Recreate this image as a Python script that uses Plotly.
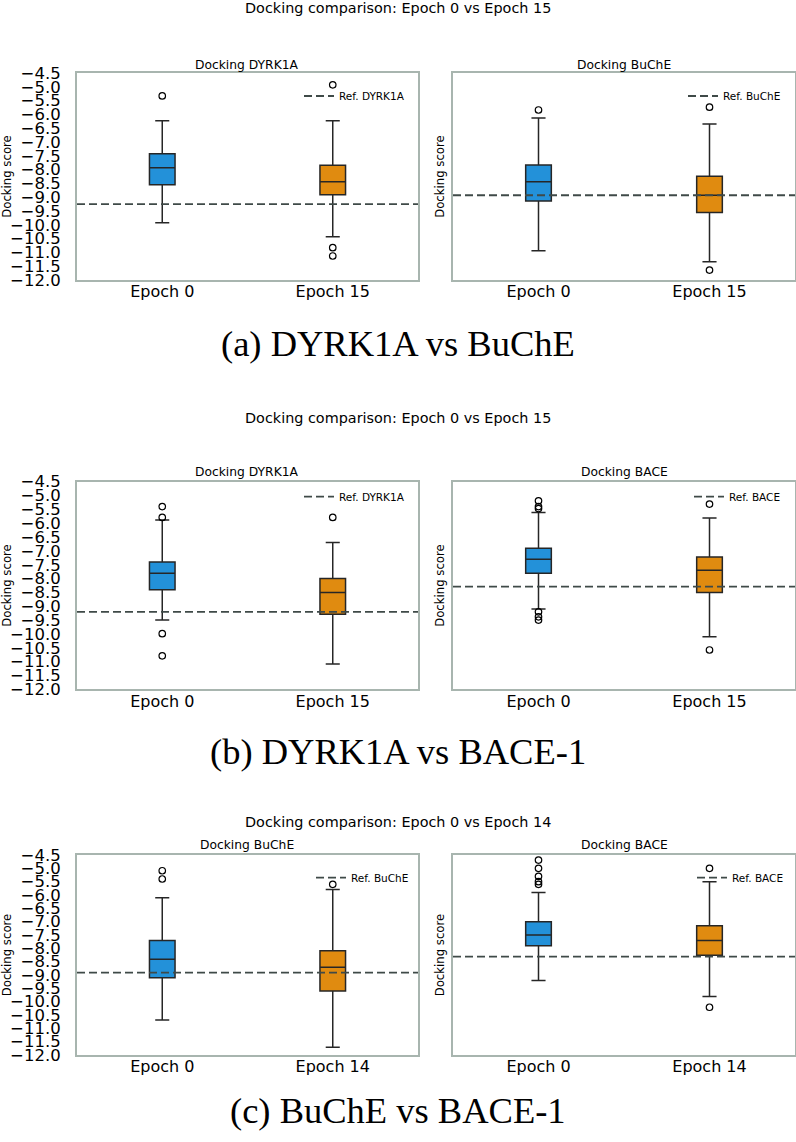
import plotly.graph_objects as go

W, H = 796, 1142

# ---------------- data ----------------
epochs_ab = ["Epoch 0", "Epoch 15"]
epochs_c = ["Epoch 0", "Epoch 14"]
y_ticks = [-4.5, -5.0, -5.5, -6.0, -6.5, -7.0, -7.5, -8.0, -8.5, -9.0,
           -9.5, -10.0, -10.5, -11.0, -11.5, -12.0]

# (a) DYRK1A vs BuChE
a_dyrk_q1 = [-8.55, -8.91]
a_dyrk_med = [-7.93, -8.44]
a_dyrk_q3 = [-7.43, -7.84]
a_dyrk_lo = [-9.93, -10.43]
a_dyrk_hi = [-6.23, -6.23]
a_dyrk_out = [[-5.33], [-4.93, -10.83, -11.13]]
a_dyrk_ref = -9.25

a_buche_q1 = [-9.14, -9.55]
a_buche_med = [-8.44, -8.93]
a_buche_q3 = [-7.83, -8.24]
a_buche_lo = [-10.94, -11.34]
a_buche_hi = [-6.13, -6.35]
a_buche_out = [[-5.84], [-5.74, -11.64]]
a_buche_ref = -8.93

# (b) DYRK1A vs BACE-1
b_dyrk_q1 = [-8.40, -9.29]
b_dyrk_med = [-7.81, -8.50]
b_dyrk_q3 = [-7.40, -8.00]
b_dyrk_lo = [-9.50, -11.09]
b_dyrk_hi = [-5.88, -6.70]
b_dyrk_out = [[-5.40, -5.79, -9.99, -10.79], [-5.79]]
b_dyrk_ref = -9.20

b_bace_q1 = [-7.81, -8.50]
b_bace_med = [-7.30, -7.70]
b_bace_q3 = [-6.90, -7.22]
b_bace_lo = [-9.10, -10.10]
b_bace_hi = [-5.61, -5.81]
b_bace_out = [[-5.19, -5.40, -5.47, -9.20, -9.38, -9.50], [-5.31, -10.58]]
b_bace_ref = -8.29

# (c) BuChE vs BACE-1
c_buche_q1 = [-9.10, -9.60]
c_buche_med = [-8.41, -8.71]
c_buche_q3 = [-7.71, -8.09]
c_buche_lo = [-10.69, -11.71]
c_buche_hi = [-6.10, -5.79]
c_buche_out = [[-5.09, -5.40], [-5.60]]
c_buche_ref = -8.91

c_bace_q1 = [-7.90, -8.26]
c_bace_med = [-7.50, -7.71]
c_bace_q3 = [-7.00, -7.15]
c_bace_lo = [-9.21, -9.81]
c_bace_hi = [-5.91, -5.50]
c_bace_out = [[-4.69, -5.00, -5.30, -5.50, -5.60], [-5.00, -10.21]]
c_bace_ref = -8.31

suptitles = ["Docking comparison: Epoch 0 vs Epoch 15",
             "Docking comparison: Epoch 0 vs Epoch 15",
             "Docking comparison: Epoch 0 vs Epoch 14"]
captions = ["(a) DYRK1A vs BuChE", "(b) DYRK1A vs BACE-1", "(c) BuChE vs BACE-1"]

subplots = [
    # (row, col, title, legend name, categories, q1, med, q3, lo, hi, outliers, ref)
    (0, 0, "Docking DYRK1A", "Ref. DYRK1A", epochs_ab, a_dyrk_q1, a_dyrk_med, a_dyrk_q3, a_dyrk_lo, a_dyrk_hi, a_dyrk_out, a_dyrk_ref),
    (0, 1, "Docking BuChE", "Ref. BuChE", epochs_ab, a_buche_q1, a_buche_med, a_buche_q3, a_buche_lo, a_buche_hi, a_buche_out, a_buche_ref),
    (1, 0, "Docking DYRK1A", "Ref. DYRK1A", epochs_ab, b_dyrk_q1, b_dyrk_med, b_dyrk_q3, b_dyrk_lo, b_dyrk_hi, b_dyrk_out, b_dyrk_ref),
    (1, 1, "Docking BACE", "Ref. BACE", epochs_ab, b_bace_q1, b_bace_med, b_bace_q3, b_bace_lo, b_bace_hi, b_bace_out, b_bace_ref),
    (2, 0, "Docking BuChE", "Ref. BuChE", epochs_c, c_buche_q1, c_buche_med, c_buche_q3, c_buche_lo, c_buche_hi, c_buche_out, c_buche_ref),
    (2, 1, "Docking BACE", "Ref. BACE", epochs_c, c_bace_q1, c_bace_med, c_bace_q3, c_bace_lo, c_bace_hi, c_bace_out, c_bace_ref),
]

# ---------------- styling / geometry (pixels) ----------------
FONT = "DejaVu Sans"
SERIF = "Liberation Serif"
box_colors = ["#2391d9", "#e08b10"]
spine = "#a8b5af"
ref_color = "#3f4a48"

rows_y = [(73, 280), (481.7, 689.3), (855, 1055)]
cols_x = [(77, 418), (453, 795)]
supt_y = [8, 418, 822]
subt_y = [64.5, 472, 845.5]
capt_y = [344, 752, 1110]
legend_y = [96, 496.7, 877.7]
legend_right = [[410, 786], [410, 786], [414, 789]]


def px_x(x):
    return x / W


def px_y(y):
    return 1 - y / H


fig = go.Figure()
layout = dict(
    width=W, height=H, margin=dict(l=0, r=0, t=0, b=0),
    paper_bgcolor="white", plot_bgcolor="white",
    font=dict(family=FONT, color="black"),
    showlegend=True, annotations=[],
)

for i, (r, c, title, refname, cats, q1, med, q3, lo, hi, outs, ref) in enumerate(subplots):
    n = i + 1
    xa = "x" if n == 1 else f"x{n}"
    ya = "y" if n == 1 else f"y{n}"
    leg = "legend" if n == 1 else f"legend{n}"
    positions = list(range(len(cats)))

    for k, pos in enumerate(positions):
        fig.add_trace(go.Box(
            x=[pos], q1=[q1[k]], median=[med[k]], q3=[q3[k]],
            lowerfence=[lo[k]], upperfence=[hi[k]],
            width=0.15, whiskerwidth=0.55, boxpoints=False,
            fillcolor=box_colors[k], line=dict(color="#262626", width=1.5),
            xaxis=xa, yaxis=ya, showlegend=False, hoverinfo="skip",
        ))
        fig.add_trace(go.Scatter(
            x=[pos] * len(outs[k]), y=outs[k], mode="markers",
            marker=dict(symbol="circle-open", size=6.5, color="black",
                        line=dict(width=1.2, color="black")),
            xaxis=xa, yaxis=ya, showlegend=False, hoverinfo="skip",
        ))

    x_lo, x_hi = -0.5, len(cats) - 0.5
    fig.add_trace(go.Scatter(
        x=[x_lo, x_hi], y=[ref, ref], mode="lines", name=refname,
        line=dict(color=ref_color, width=1.8, dash="8px,4px"),
        xaxis=xa, yaxis=ya, legend=leg, showlegend=True, hoverinfo="skip",
    ))

    x0, x1 = cols_x[c]
    y0, y1 = rows_y[r]
    xkey = "xaxis" if n == 1 else f"xaxis{n}"
    ykey = "yaxis" if n == 1 else f"yaxis{n}"
    layout[xkey] = dict(
        domain=[px_x(x0), px_x(x1)], anchor=ya, range=[x_lo, x_hi],
        tickmode="array", tickvals=positions, ticktext=cats,
        showgrid=False, zeroline=False, ticks="",
        showline=True, mirror=True, linecolor=spine, linewidth=2,
        tickfont=dict(size=16, family=FONT), automargin=False,
        ticklabelstandoff=-4,
    )
    layout[ykey] = dict(
        domain=[px_y(y1), px_y(y0)], anchor=xa, range=[-12, -4.5],
        tickmode="array", tickvals=y_ticks, tickformat=".1f",
        showticklabels=(c == 0),
        showgrid=False, zeroline=False, ticks="",
        showline=True, mirror=True, linecolor=spine, linewidth=2,
        tickfont=dict(size=16.5, family=FONT), automargin=False,
        ticklabelstandoff=11,
        title=dict(text="Docking score", font=dict(size=11.7, family=FONT),
                   standoff=2 if c == 0 else 4),
    )
    layout[leg] = dict(
        x=px_x(legend_right[r][c]), y=px_y(legend_y[r]),
        xanchor="right", yanchor="middle",
        bgcolor="rgba(0,0,0,0)", borderwidth=0,
        font=dict(size=10.5, family=FONT),
    )
    layout["annotations"].append(dict(
        text=title, x=px_x((x0 + x1) / 2), y=px_y(subt_y[r]),
        xref="paper", yref="paper", xanchor="center", yanchor="middle",
        showarrow=False, font=dict(size=12.3, family=FONT),
    ))

for r in range(3):
    layout["annotations"].append(dict(
        text=suptitles[r], x=0.5, y=px_y(supt_y[r]),
        xref="paper", yref="paper", xanchor="center", yanchor="middle",
        showarrow=False, font=dict(size=14.4, family=FONT),
    ))
    layout["annotations"].append(dict(
        text=captions[r], x=0.5, y=px_y(capt_y[r]),
        xref="paper", yref="paper", xanchor="center", yanchor="middle",
        showarrow=False, font=dict(size=36.5, family=SERIF),
    ))

fig.update_layout(**layout)
fig.write_html("out.html")
